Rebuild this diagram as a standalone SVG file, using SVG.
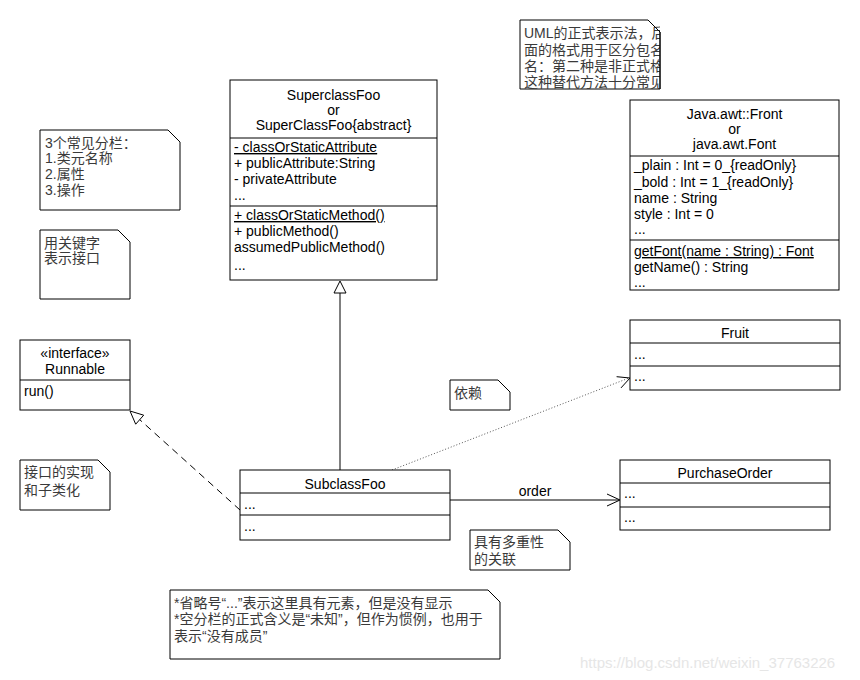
<svg xmlns="http://www.w3.org/2000/svg" width="860" height="680" viewBox="0 0 860 680">
<style>
text{font-family:"Liberation Sans","Noto Sans CJK SC",sans-serif;font-size:14px;fill:#000}
.c{text-anchor:middle}
.u{text-decoration:underline}
.n{fill:#3a3a3a}
.box{fill:#fff;stroke:#000;stroke-width:1}
.ln{stroke:#000;stroke-width:1;fill:none}
.wm{fill:#e6e6e6;font-size:15px}
</style>
<defs>
<clipPath id="clipTop"><rect x="520" y="20" width="140" height="69"/></clipPath>
</defs>
<rect width="860" height="680" fill="#fff"/>

<g id="connectors">
<line class="ln" x1="340" y1="470" x2="340" y2="293"/>
<polygon points="340,281 334,293 346,293" fill="#fff" stroke="#000"/>
<line class="ln" x1="240" y1="510" x2="139" y2="419" stroke-dasharray="7,5"/>
<polygon points="130,411 135.7,424.2 143.7,415.2" fill="#fff" stroke="#000"/>
<line x1="392" y1="470" x2="629" y2="378" stroke="#555" stroke-width="1" stroke-dasharray="1,2"/>
<polyline class="ln" points="616.6,376.7 630,378 621,387.9"/>
<line class="ln" x1="450" y1="500" x2="619" y2="500"/>
<polyline class="ln" points="607,494 620,500 607,506"/>
<text class="c" x="535" y="496">order</text>
</g>

<g id="superclass">
<rect class="box" x="230" y="80" width="207" height="200"/>
<text class="c" x="333.5" y="100">SuperclassFoo</text>
<text class="c" x="333.5" y="115">or</text>
<text class="c" x="333.5" y="130">SuperClassFoo{abstract}</text>
<line class="ln" x1="230" y1="138" x2="437" y2="138"/>
<text class="u" x="234" y="152">- classOrStaticAttribute</text>
<text x="234" y="168">+ publicAttribute:String</text>
<text x="234" y="184">- privateAttribute</text>
<text x="234" y="200">...</text>
<line class="ln" x1="230" y1="206" x2="437" y2="206"/>
<text class="u" x="234" y="220">+ classOrStaticMethod()</text>
<text x="234" y="236">+ publicMethod()</text>
<text x="234" y="252">assumedPublicMethod()</text>
<text x="234" y="270">...</text>
</g>

<g id="font">
<rect class="box" x="630" y="100" width="209" height="190"/>
<text class="c" x="734.5" y="119">Java.awt::Front</text>
<text class="c" x="734.5" y="134">or</text>
<text class="c" x="734.5" y="149">java.awt.Font</text>
<line class="ln" x1="630" y1="156" x2="839" y2="156"/>
<text x="634" y="170">_plain : Int = 0_{readOnly}</text>
<text x="634" y="187">_bold : Int = 1_{readOnly}</text>
<text x="634" y="203">name : String</text>
<text x="634" y="219">style : Int = 0</text>
<text x="634" y="234">...</text>
<line class="ln" x1="630" y1="240" x2="839" y2="240"/>
<text class="u" x="634" y="256">getFont(name : String) : Font</text>
<text x="634" y="272">getName() : String</text>
<text x="634" y="287">...</text>
</g>

<g id="fruit">
<rect class="box" x="630" y="320" width="210" height="70"/>
<text class="c" x="735" y="338">Fruit</text>
<line class="ln" x1="630" y1="343" x2="840" y2="343"/>
<text x="634" y="359">...</text>
<line class="ln" x1="630" y1="366" x2="840" y2="366"/>
<text x="634" y="381">...</text>
</g>

<g id="purchaseorder">
<rect class="box" x="620" y="460" width="210" height="70"/>
<text class="c" x="725" y="478">PurchaseOrder</text>
<line class="ln" x1="620" y1="483" x2="830" y2="483"/>
<text x="624" y="498">...</text>
<line class="ln" x1="620" y1="507" x2="830" y2="507"/>
<text x="624" y="522">...</text>
</g>

<g id="runnable">
<rect class="box" x="20" y="340" width="110" height="70"/>
<text class="c" x="75" y="358">«interface»</text>
<text class="c" x="75" y="374">Runnable</text>
<line class="ln" x1="20" y1="380" x2="130" y2="380"/>
<text x="24" y="396">run()</text>
</g>

<g id="subclass">
<rect class="box" x="240" y="470" width="210" height="70"/>
<text class="c" x="345" y="489">SubclassFoo</text>
<line class="ln" x1="240" y1="493" x2="450" y2="493"/>
<text x="244" y="509">...</text>
<line class="ln" x1="240" y1="515" x2="450" y2="515"/>
<text x="244" y="531">...</text>
</g>

<g id="note-top">
<path class="box" d="M520,20 H648 L660,32 V89 H520 Z"/>
<g clip-path="url(#clipTop)">
<text class="n" x="524" y="38">UML的正式表示法，后</text>
<text class="n" x="524" y="55">面的格式用于区分包名</text>
<text class="n" x="524" y="71">名：第二种是非正式格</text>
<text class="n" x="524" y="87">这种替代方法十分常见</text>
</g>
<path class="ln" d="M648,20 L660,32 V89"/>
</g>

<g id="note-compartments">
<path class="box" d="M40,130 H168 L180,142 V210 H40 Z"/>
<text class="n" x="45" y="148">3个常见分栏：</text>
<text class="n" x="45" y="163">1.类元名称</text>
<text class="n" x="45" y="179">2.属性</text>
<text class="n" x="45" y="195">3.操作</text>
</g>

<g id="note-keyword">
<path class="box" d="M40,230 H118 L130,242 V299 H40 Z"/>
<text class="n" x="44" y="248">用关键字</text>
<text class="n" x="44" y="263">表示接口</text>
</g>

<g id="note-realization">
<path class="box" d="M20,460 H98 L110,472 V510 H20 Z"/>
<text class="n" x="24" y="477">接口的实现</text>
<text class="n" x="24" y="495">和子类化</text>
</g>

<g id="note-dependency">
<path class="box" d="M450,380 H498 L510,392 V410 H450 Z"/>
<text class="n" x="454" y="398">依赖</text>
</g>

<g id="note-association">
<path class="box" d="M470,530 H558 L570,542 V570 H470 Z"/>
<text class="n" x="474" y="547">具有多重性</text>
<text class="n" x="474" y="564">的关联</text>
</g>

<g id="note-bottom">
<path class="box" d="M170,590 H488 L500,602 V659 H170 Z"/>
<text class="n" x="174" y="608">*省略号“...”表示这里具有元素，但是没有显示</text>
<text class="n" x="174" y="624">*空分栏的正式含义是“未知”，但作为惯例，也用于</text>
<text class="n" x="174" y="641">表示“没有成员”</text>
</g>

<text class="wm" x="580" y="668">https://blog.csdn.net/weixin_37763226</text>
</svg>
